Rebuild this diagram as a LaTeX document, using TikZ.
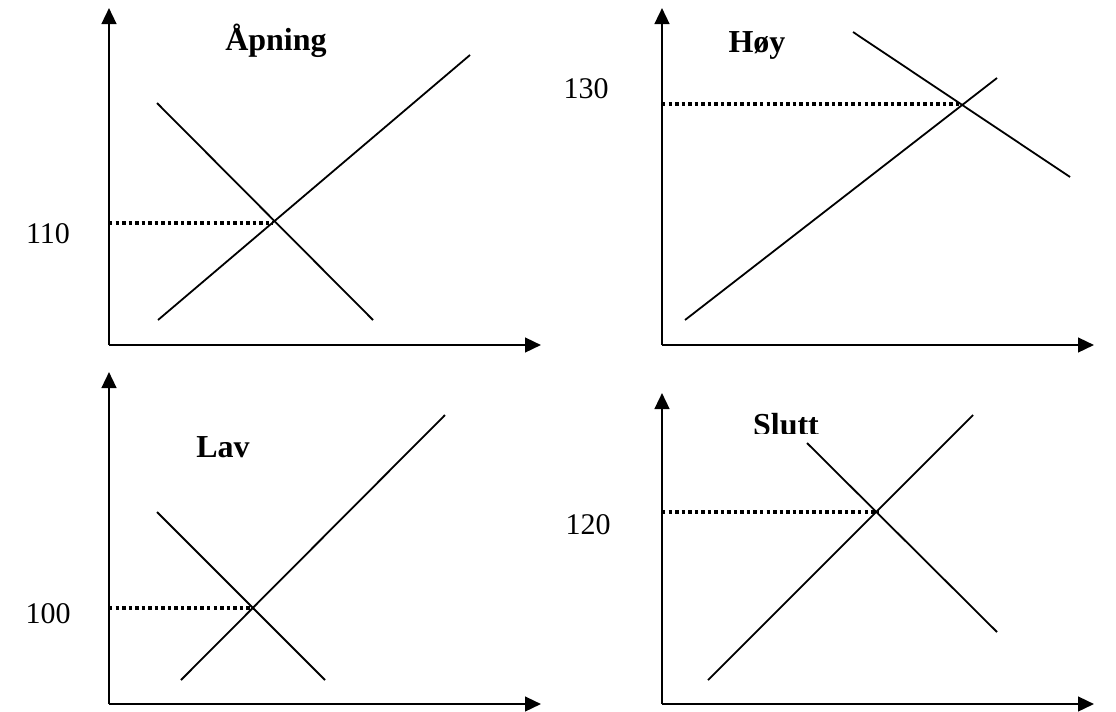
\documentclass[tikz,border=0pt]{standalone}
\usepackage{fontspec}
\setmainfont{Liberation Serif}
\usetikzlibrary{arrows.meta}
\begin{document}
\begin{tikzpicture}[x=0.75pt,y=-0.75pt,
  axis/.style={line width=1.8pt,-{Triangle[length=12pt,width=11pt]}},
  curve/.style={line width=1.35pt},
  level/.style={line width=2.6pt,dash pattern=on 2.6pt off 2.3pt},
  title/.style={anchor=base,font=\fontsize{24}{28}\selectfont\bfseries,inner sep=0pt},
  num/.style={anchor=base,font=\fontsize{22.5}{26}\selectfont,inner sep=0pt}]
\useasboundingbox (0,0) rectangle (1116,711);
% ---------- panel 1: Åpning
\coordinate (o1) at (109,345);
\coordinate (y1) at (109,8);
\coordinate (x1) at (541,345);
\draw[axis] (o1) -- (y1);
\draw[axis] (o1) -- (x1);
\coordinate (s1a) at (158,320); \coordinate (s1b) at (470,55);
\coordinate (d1a) at (157,103); \coordinate (d1b) at (373,320);
\draw[curve] (s1a) -- (s1b);
\draw[curve] (d1a) -- (d1b);
\coordinate (l1a) at (109,223); \coordinate (l1b) at (273,223);
\draw[level] (l1a) -- (l1b);
\node[title] (t1) at (276,50) {Åpning};
\node[num] (n1) at (48,243) {110};
% ---------- panel 2: Høy
\coordinate (o2) at (662,345);
\coordinate (y2) at (662,8);
\coordinate (x2) at (1094,345);
\draw[axis] (o2) -- (y2);
\draw[axis] (o2) -- (x2);
\coordinate (s2a) at (685,320); \coordinate (s2b) at (997,78);
\coordinate (d2a) at (853,32); \coordinate (d2b) at (1070,177);
\draw[curve] (s2a) -- (s2b);
\draw[curve] (d2a) -- (d2b);
\coordinate (l2a) at (662,104); \coordinate (l2b) at (962,104);
\draw[level] (l2a) -- (l2b);
\node[title] (t2) at (757,52) {Høy};
\node[num] (n2) at (586,98) {130};
% ---------- panel 3: Lav
\coordinate (o3) at (109,704);
\coordinate (y3) at (109,372);
\coordinate (x3) at (541,704);
\draw[axis] (o3) -- (y3);
\draw[axis] (o3) -- (x3);
\coordinate (s3a) at (181,680); \coordinate (s3b) at (445,415);
\coordinate (d3a) at (157,512); \coordinate (d3b) at (325,680);
\draw[curve] (s3a) -- (s3b);
\draw[curve] (d3a) -- (d3b);
\coordinate (l3a) at (109,608); \coordinate (l3b) at (253,608);
\draw[level] (l3a) -- (l3b);
\node[title] (t3) at (223,457) {Lav};
\node[num] (n3) at (48,623) {100};
% ---------- panel 4: Slutt
\coordinate (o4) at (662,704);
\coordinate (y4) at (662,393);
\coordinate (x4) at (1094,704);
\draw[axis] (o4) -- (y4);
\draw[axis] (o4) -- (x4);
\coordinate (s4a) at (708,680); \coordinate (s4b) at (973,415);
\coordinate (d4a) at (807,443); \coordinate (d4b) at (997,632);
\draw[curve] (s4a) -- (s4b);
\draw[curve] (d4a) -- (d4b);
\coordinate (l4a) at (662,512); \coordinate (l4b) at (878,512);
\draw[level] (l4a) -- (l4b);
\begin{scope}
\clip (700,400) rectangle (880,433);
\node[title] (t4) at (786,435) {Slutt};
\end{scope}
\node[num] (n4) at (588,534) {120};
\end{tikzpicture}
\end{document}
